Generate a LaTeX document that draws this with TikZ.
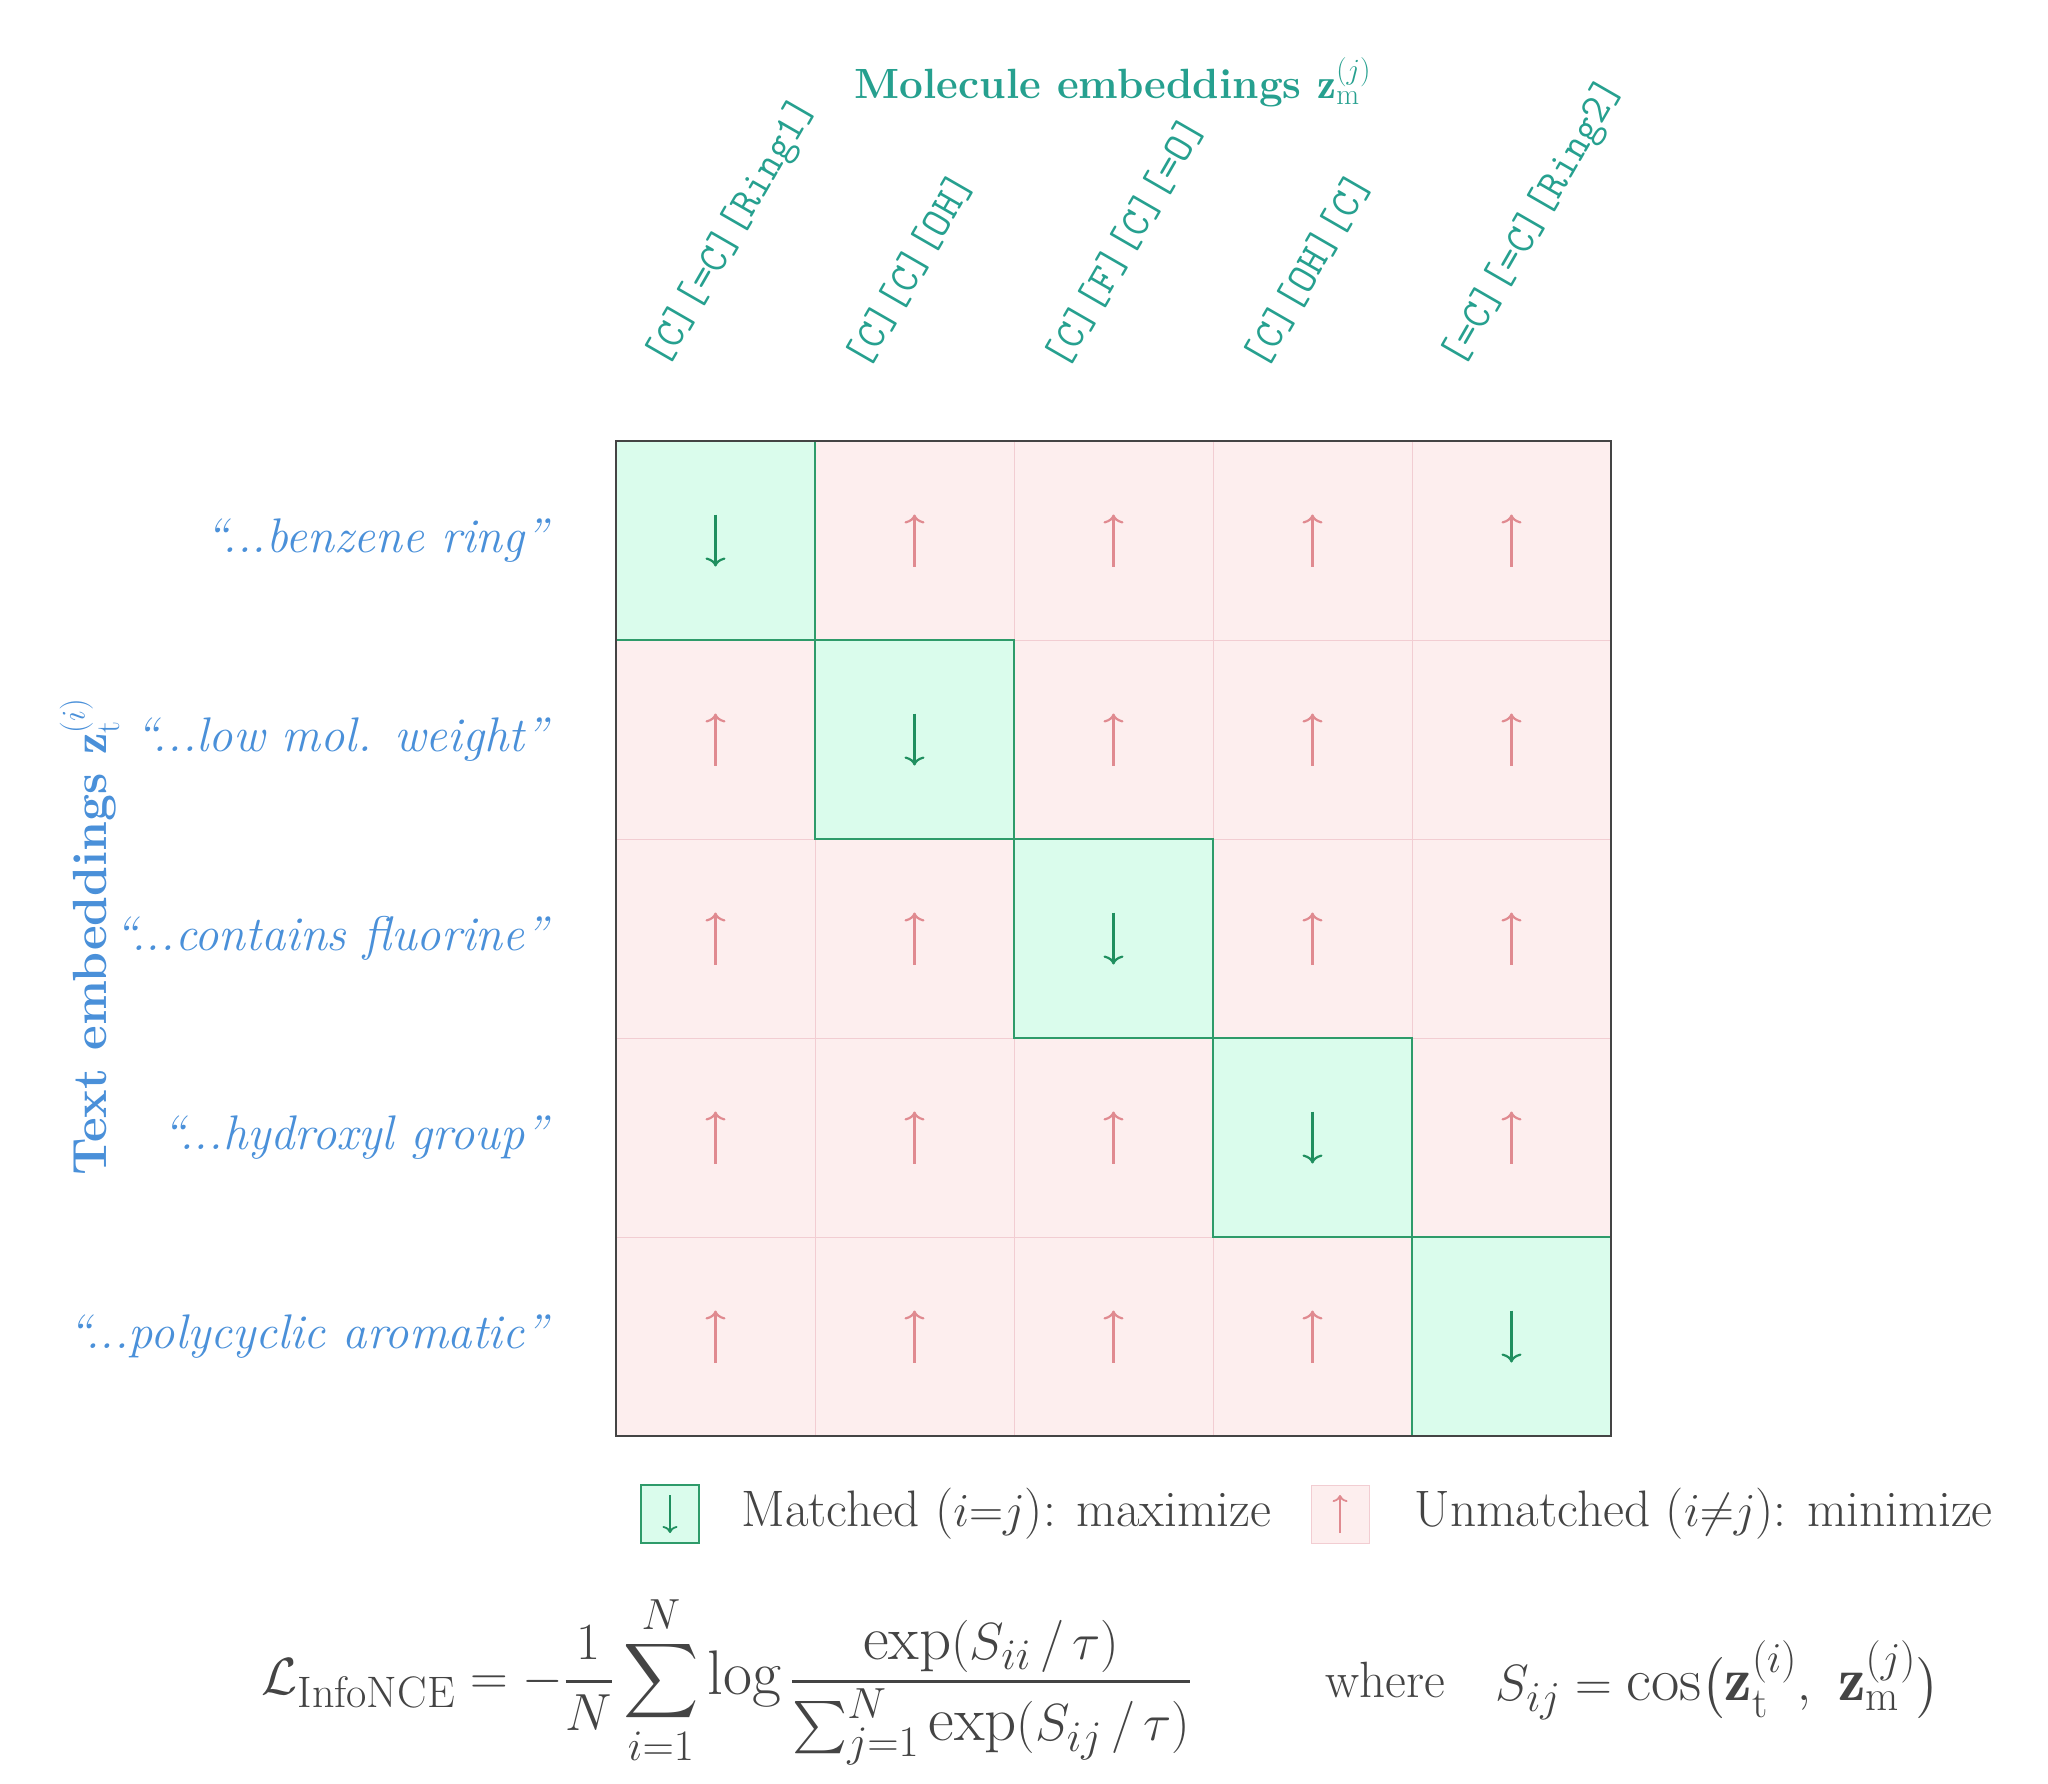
\documentclass[tikz,border=0pt]{standalone}
\usepackage{amsmath}
\usepackage{graphicx}
\usepackage{fontspec}
\usetikzlibrary{arrows.meta}
\definecolor{teal1}{HTML}{26A08F}
\definecolor{blue1}{HTML}{4A90D9}
\definecolor{gfill}{HTML}{DAFCEC}
\definecolor{gline}{HTML}{2E9B6A}
\definecolor{garrow}{HTML}{1F8F5F}
\definecolor{pfill}{HTML}{FDEEEE}
\definecolor{pline}{HTML}{F2CDD2}
\definecolor{parrow}{HTML}{E08A90}
\definecolor{dark}{HTML}{444444}
\newcommand{\dts}{.\kern0pt.\kern0pt.}
\tikzset{
 cellp/.style={fill=pfill,draw=pline,line width=1pt},
 cellg/.style={fill=gfill,draw=gline,line width=2pt},
 upa/.style={draw=garrow,line width=2.2pt,-{Computer Modern Rightarrow[length=9pt,width=20pt]}},
 dna/.style={draw=parrow,line width=2.2pt,-{Computer Modern Rightarrow[length=9pt,width=20pt]}},
 rowlab/.style={anchor=east,text=blue1,font=\fontsize{27}{30}\selectfont\itshape\addfontfeatures{LetterSpace=12}},
 collab/.style={anchor=west,rotate=60,text=teal1,font=\fontsize{21}{24}\selectfont\ttfamily},
}
\begin{document}
\begin{tikzpicture}[x=1pt,y=-1pt]
\useasboundingbox (0,0) rectangle (2048,1784);
\node[text=teal1,font=\fontsize{30}{34}\selectfont\bfseries\addfontfeatures{LetterSpace=8}] (title) at (1113,82) {\scalebox{1.41}{Molecule embeddings $\mathbf{z}_{\mathrm{m}}^{(j)}$}};
\node[rotate=90,text=blue1,font=\fontsize{30}{34}\selectfont\bfseries\addfontfeatures{LetterSpace=8}] (ylab) at (90,937) {\scalebox{1.6}{Text embeddings $\mathbf{z}_{\mathrm{t}}^{(i)}$}};
\foreach \r in {0,1,2,3,4}{
 \foreach \c in {0,1,2,3,4}{
  \ifnum\r=\c\else
   \draw[cellp] (616+199*\c,441+199*\r) rectangle ++(199,199);
   \coordinate (d\r\c) at (715.5+199*\c,540.5+199*\r);
   \draw[dna] ([yshift=-26pt]d\r\c) -- ([yshift=26pt]d\r\c);
  \fi
 }
}
\foreach \r in {0,1,2,3,4}{
 \draw[cellg] (616+199*\r,441+199*\r) rectangle ++(199,199);
 \coordinate (u\r) at (715.5+199*\r,540.5+199*\r);
 \draw[upa] ([yshift=26pt]u\r) -- ([yshift=-26pt]u\r);
}
\draw[dark,line width=2pt] (616,441) rectangle (1611,1436);
\foreach \t [count=\i from 0] in {{``\dts benzene ring''},{``\dts low mol. weight''},{``\dts contains fluorine''},{``\dts hydroxyl group''},{``\dts polycyclic aromatic''}}
 \node[rowlab] (r\i) at (551,540.5+199*\i) {\scalebox{1.8}{\t}};
\foreach \t [count=\i from 0] in {{[C][=C][Ring1]},{[C][C][OH]},{[C][F][C][=O]},{[C][OH][C]},{[=C][=C][Ring2]}}
 \node[collab] (c\i) at (655+199*\i,367) {\scalebox{2}{\t}};
% legend
\node[draw=gline,fill=gfill,line width=2pt,minimum size=58pt,inner sep=0pt] (lg) at (670,1514) {};
\draw[upa,line width=1.8pt,-{Computer Modern Rightarrow[length=7pt,width=15pt]}] ([yshift=19pt]lg.center) -- ([yshift=-19pt]lg.center);
\node[anchor=west,text=dark,font=\fontsize{27}{30}\selectfont\addfontfeatures{LetterSpace=8}] (lgt) at (738,1514) {\scalebox{1.9}{Matched ($i{=}j$): maximize}};
\node[draw=pline,fill=pfill,line width=1pt,minimum size=58pt,inner sep=0pt] (lp) at (1340,1514) {};
\draw[dna,line width=1.8pt,-{Computer Modern Rightarrow[length=7pt,width=15pt]}] ([yshift=-19pt]lp.center) -- ([yshift=19pt]lp.center);
\node[anchor=west,text=dark,font=\fontsize{27}{30}\selectfont\addfontfeatures{LetterSpace=8}] (lpt) at (1411,1514) {\scalebox{1.9}{Unmatched ($i{\neq}j$): minimize}};
% formula
\node[anchor=west,text=dark,font=\fontsize{30}{36}\selectfont] (f1) at (258,1680) {\scalebox{2.1}{$\displaystyle \mathcal{L}_{\mathrm{InfoNCE}} = -\frac{1}{N}\sum_{i=1}^{N}\log\frac{\exp(S_{ii}\,/\,\tau)}{\sum_{j=1}^{N}\exp(S_{ij}\,/\,\tau)}$}};
\node[anchor=west,text=dark,font=\fontsize{30}{36}\selectfont\addfontfeatures{LetterSpace=8}] (f2) at (1322,1680) {\scalebox{1.7}{where}};
\node[anchor=west,text=dark,font=\fontsize{30}{36}\selectfont] (f3) at (1492,1680) {\scalebox{2.05}{$S_{ij}=\cos\bigl(\mathbf{z}_{\mathrm{t}}^{(i)},\ \mathbf{z}_{\mathrm{m}}^{(j)}\bigr)$}};
\end{tikzpicture}
\end{document}
